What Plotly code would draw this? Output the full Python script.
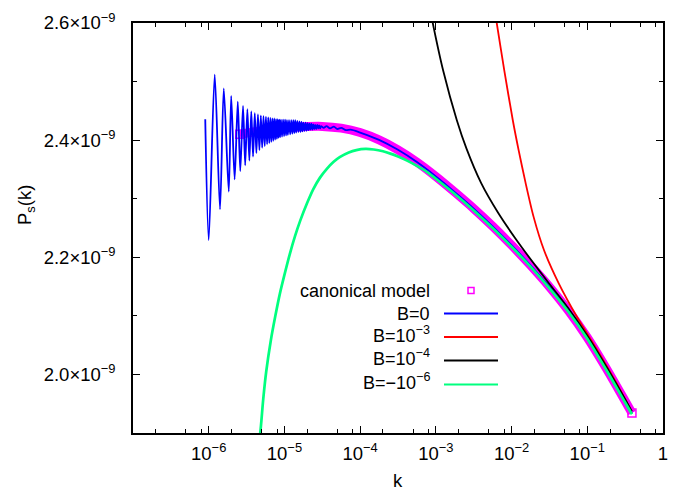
import plotly.graph_objects as go

# ---------------- data ----------------
S = 1e-9  # values below are in units of 1e-9

canon_k = [2.57e-6, 5.01e-6, 1.0e-5, 1.778e-5, 3.162e-5, 5.623e-5, 1.0e-4, 1.778e-4, 3.162e-4, 5.623e-4,
           1.0e-3, 1.778e-3, 3.162e-3, 5.623e-3, 1.0e-2, 1.778e-2, 3.162e-2, 5.623e-2, 0.1, 0.1778,
           0.3162, 0.389]
canon_v = [2.410, 2.416, 2.421, 2.423, 2.4235, 2.4205, 2.413, 2.4005, 2.3835, 2.3625,
           2.338, 2.3112, 2.2832, 2.2529, 2.2206, 2.1863, 2.1495, 2.109, 2.063, 2.0105,
           1.9545, 1.934]

b0_k = [0.90e-6, 1.00e-6, 1.20e-6, 1.41e-6, 1.58e-6, 1.84e-6, 1.98e-6, 2.20e-6, 2.42e-6, 2.61e-6,
        2.84e-6, 3.03e-6, 3.24e-6, 3.44e-6, 3.65e-6, 3.85e-6, 4.06e-6, 4.26e-6, 4.47e-6, 4.67e-6,
        4.88e-6, 5.08e-6, 5.29e-6, 5.49e-6, 5.70e-6, 5.90e-6, 6.11e-6, 6.31e-6, 6.52e-6, 6.72e-6,
        6.93e-6, 7.13e-6, 7.34e-6, 7.54e-6, 7.75e-6, 7.95e-6, 8.16e-6, 8.36e-6, 8.57e-6, 8.77e-6,
        9.0e-6, 9.3e-6, 9.6e-6, 9.9e-6, 10.2e-6, 10.5e-6, 10.8e-6, 11.1e-6, 11.5e-6, 11.9e-6,
        12.3e-6, 12.7e-6, 13.1e-6, 13.5e-6, 13.9e-6, 14.3e-6, 14.8e-6, 15.3e-6, 15.8e-6, 16.3e-6,
        16.8e-6, 17.3e-6, 17.8e-6, 18.4e-6, 19.0e-6, 19.6e-6, 20.2e-6, 20.8e-6, 21.4e-6, 22.0e-6,
        22.7e-6, 23.4e-6, 24.1e-6, 24.8e-6, 25.5e-6, 26.3e-6, 27.1e-6, 27.9e-6, 28.7e-6, 29.6e-6,
        30.5e-6, 33.0e-6, 36.0e-6, 40.0e-6, 45.0e-6, 50.0e-6, 56.2e-6, 65.0e-6, 75.0e-6, 1.0e-4,
        1.778e-4, 3.162e-4, 5.623e-4, 1.0e-3, 1.778e-3, 3.162e-3, 5.623e-3, 1.0e-2, 1.778e-2, 3.162e-2,
        5.623e-2, 0.1, 0.1778, 0.3162, 0.389]
b0_v = [2.4356, 2.2295, 2.5117, 2.2819, 2.4885, 2.3120, 2.4754, 2.3331, 2.4656, 2.3473,
        2.4583, 2.357, 2.453, 2.365, 2.449, 2.372, 2.446, 2.378, 2.444, 2.383,
        2.442, 2.387, 2.441, 2.390, 2.440, 2.393, 2.439, 2.395, 2.438, 2.397,
        2.437, 2.399, 2.437, 2.401, 2.436, 2.402, 2.436, 2.404, 2.435, 2.405,
        2.435, 2.406, 2.435, 2.407, 2.435, 2.408, 2.434, 2.409, 2.434, 2.410,
        2.434, 2.411, 2.434, 2.412, 2.434, 2.413, 2.433, 2.414, 2.432, 2.414,
        2.431, 2.415, 2.430, 2.416, 2.430, 2.416, 2.429, 2.417, 2.428, 2.418,
        2.428, 2.418, 2.427, 2.419, 2.426, 2.419, 2.426, 2.420, 2.425, 2.420,
        2.424, 2.421, 2.424, 2.420, 2.423, 2.419, 2.421, 2.417, 2.418, 2.413,
        2.4005, 2.3835, 2.3625, 2.338, 2.3112, 2.2832, 2.2529, 2.2206, 2.1863, 2.1495,
        2.109, 2.063, 2.0105, 1.9545, 1.934]

b3_k = [6.14e-3, 6.37e-3, 8.04e-3, 1.038e-2, 1.239e-2, 1.531e-2, 1.954e-2, 2.685e-2, 4.18e-2, 7.33e-2,
        0.1334, 0.2455, 0.349, 0.380]
b3_v = [2.614, 2.600, 2.518, 2.434, 2.383, 2.327, 2.269, 2.212, 2.156, 2.098,
        2.043, 1.984, 1.947, 1.938]

b4_k = [8.51e-4, 9.10e-4, 1.256e-3, 1.888e-3, 2.547e-3, 3.954e-3, 6.64e-3, 1.112e-2, 1.923e-2,
        3.162e-2, 5.623e-2, 0.1, 0.1778, 0.3162, 0.389]
b4_v = [2.620, 2.600, 2.5175, 2.4344, 2.385, 2.327, 2.276, 2.233, 2.191,
        2.1545, 2.113, 2.066, 2.0135, 1.9575, 1.937]

bm6_k = [4.57e-6, 4.79e-6, 5.25e-6, 5.75e-6, 6.61e-6, 7.59e-6, 8.71e-6, 1.0e-5, 1.175e-5, 1.380e-5,
         1.622e-5, 2.0e-5, 2.399e-5, 2.951e-5, 3.631e-5, 4.467e-5, 5.370e-5, 7.079e-5, 8.913e-5, 1.175e-4,
         1.514e-4, 2.0e-4, 2.512e-4, 3.162e-4, 4.169e-4, 5.623e-4, 7.586e-4, 1.0e-3, 1.778e-3, 3.162e-3,
         5.623e-3, 1.0e-2, 1.778e-2, 3.162e-2, 5.623e-2, 0.1, 0.1778, 0.3162, 0.389]
bm6_v = [1.885, 1.900, 1.958, 2.005, 2.058, 2.100, 2.138, 2.170, 2.205, 2.236,
         2.263, 2.293, 2.316, 2.336, 2.351, 2.363, 2.371, 2.379, 2.383, 2.385,
         2.384, 2.381, 2.377, 2.372, 2.365, 2.356, 2.346, 2.334, 2.308, 2.280,
         2.250, 2.218, 2.184, 2.147, 2.107, 2.061, 2.008, 1.952, 1.932]

x_tickvals = [1e-6, 1e-5, 1e-4, 1e-3, 1e-2, 1e-1, 1]
x_ticktext = ["10<sup>−6</sup>", "10<sup>−5</sup>", "10<sup>−4</sup>", "10<sup>−3</sup>",
              "10<sup>−2</sup>", "10<sup>−1</sup>", "1"]
x_minor = [2e-7, 5e-7, 8e-7, 2e-6, 5e-6, 8e-6, 2e-5, 5e-5, 8e-5, 2e-4, 5e-4, 8e-4,
           2e-3, 5e-3, 8e-3, 2e-2, 5e-2, 8e-2, 0.2, 0.5, 0.8]
y_tickvals = [2.0, 2.2, 2.4, 2.6]
y_ticktext = ["2.0×10<sup>−9</sup>", "2.2×10<sup>−9</sup>", "2.4×10<sup>−9</sup>", "2.6×10<sup>−9</sup>"]
y_minor = [2.1, 2.3, 2.5]

legend_labels = ["canonical model", "B=0", "B=10<sup>−3</sup>", "B=10<sup>−4</sup>", "B=−10<sup>−6</sup>"]

MAG = "#ff00ff"
BLUE = "#0000ff"
RED = "#ff0000"
BLACK = "#000000"
GREEN = "#00ff7f"
FS = 18.5
FS_KEY = 18

def sc(v):
    return [a * S for a in v]

fig = go.Figure()
# canonical model: dense squares -> thick band + end squares
fig.add_trace(go.Scatter(x=canon_k, y=sc(canon_v), mode="lines",
                         line=dict(color=MAG, width=9, shape="spline", smoothing=0.8),
                         showlegend=False, hoverinfo="skip"))
fig.add_trace(go.Scatter(x=[canon_k[0], canon_k[-1]], y=sc([canon_v[0], canon_v[-1]]), mode="markers",
                         marker=dict(symbol="square-open", size=8, color=MAG, line=dict(width=1.5)),
                         showlegend=False))
fig.add_trace(go.Scatter(x=b0_k, y=sc(b0_v), mode="lines",
                         line=dict(color=BLUE, width=1.8, shape="spline", smoothing=0.8), showlegend=False))
fig.add_trace(go.Scatter(x=b3_k, y=sc(b3_v), mode="lines",
                         line=dict(color=RED, width=1.8, shape="spline", smoothing=0.8), showlegend=False))
fig.add_trace(go.Scatter(x=b4_k, y=sc(b4_v), mode="lines",
                         line=dict(color=BLACK, width=1.8, shape="spline", smoothing=0.8), showlegend=False))
fig.add_trace(go.Scatter(x=bm6_k, y=sc(bm6_v), mode="lines",
                         line=dict(color=GREEN, width=2.7, shape="spline", smoothing=0.8), showlegend=False))

# ---- layout geometry (screen pixels; the page body adds an 8px margin) ----
OFF = 8
L, R, T, B = 133 - OFF, 663 - OFF, 23 - OFF, 433 - OFF
W, H = R - L, B - T
def px(xs):
    return (xs - OFF - L) / W
def py(ys):
    return (B - (ys - OFF)) / H

row_y = [290.5, 313.5, 337.0, 360.5, 384.5]
colors = [MAG, BLUE, RED, BLACK, GREEN]
annotations = []
shapes = []
for i, (lab, col) in enumerate(zip(legend_labels, colors)):
    annotations.append(dict(x=px(432), y=py(row_y[i]), xref="paper", yref="paper",
                            text=lab, showarrow=False, xanchor="right", yanchor="middle",
                            yshift=3 if "sup" in lab else 0,
                            font=dict(size=FS_KEY)))
    if i == 0:
        shapes.append(dict(type="rect", xref="paper", yref="paper",
                           xsizemode="pixel", ysizemode="pixel",
                           xanchor=px(471), yanchor=py(row_y[i]),
                           x0=-3, x1=3, y0=-3, y1=3,
                           line=dict(color=MAG, width=1.5)))
    else:
        shapes.append(dict(type="line", xref="paper", yref="paper",
                           x0=px(444), x1=px(498), y0=py(row_y[i]), y1=py(row_y[i]),
                           line=dict(color=col, width=1.8)))

annotations.append(dict(x=px(26), y=py(205), xref="paper", yref="paper", text="P<sub>s</sub>(k)",
                        showarrow=False, textangle=-90, xanchor="center", yanchor="middle",
                        font=dict(size=FS)))
annotations.append(dict(x=px(398), y=py(480), xref="paper", yref="paper", text="k",
                        showarrow=False, xanchor="center", yanchor="middle", font=dict(size=FS)))

fig.update_layout(
    width=680, height=492,
    margin=dict(l=L, r=680 - R, t=T, b=492 - B, autoexpand=False),
    paper_bgcolor="white", plot_bgcolor="white",
    font=dict(family="Liberation Sans, Arial, sans-serif", size=FS, color="black"),
    showlegend=False,
    annotations=annotations, shapes=shapes,
)
fig.update_xaxes(type="log", range=[-7, 0], tickvals=x_tickvals, ticktext=x_ticktext,
                 ticks="inside", ticklen=7, tickwidth=1.2, tickcolor="black", ticklabelstandoff=3,
                 showline=True, linecolor="black", linewidth=1.5, mirror="allticks",
                 showgrid=False, zeroline=False, automargin=False,
                 minor=dict(tickmode="array", tickvals=x_minor,
                            ticks="inside", ticklen=4, tickwidth=1, tickcolor="black"))
fig.update_yaxes(range=[1.9e-9, 2.6e-9], tickvals=sc(y_tickvals), ticktext=y_ticktext,
                 ticks="inside", ticklen=7, tickwidth=1.2, tickcolor="black", ticklabelstandoff=12,
                 showline=True, linecolor="black", linewidth=1.5, mirror="allticks",
                 showgrid=False, zeroline=False, automargin=False,
                 minor=dict(tickmode="array", tickvals=sc(y_minor),
                            ticks="inside", ticklen=4, tickwidth=1, tickcolor="black"))

fig.write_html("out.html")
